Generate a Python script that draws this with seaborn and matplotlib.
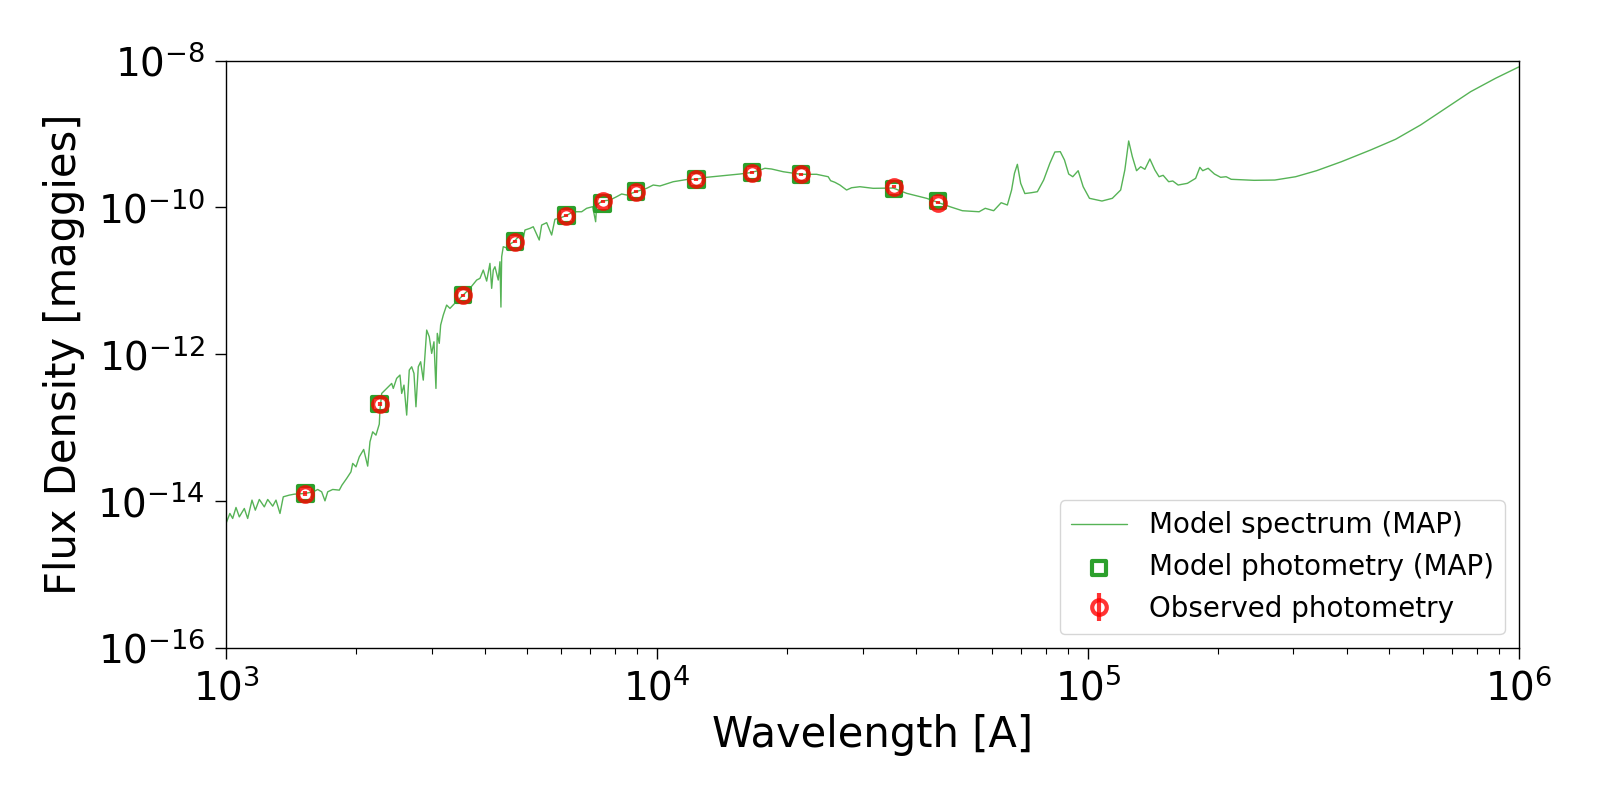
import numpy as np
import pandas as pd
import matplotlib
matplotlib.use("Agg")
import matplotlib.pyplot as plt
import seaborn as sns
from matplotlib.ticker import NullLocator

# model spectrum (log10 wavelength [A], log10 flux [maggies])
spec_loglam = [
    3.000, 3.009, 3.0155, 3.0232, 3.0309, 3.0425, 3.0503, 3.0603, 3.068, 3.0773,
    3.0889, 3.0968, 3.1084, 3.116, 3.1253, 3.1329, 3.1469, 3.1585, 3.1833, 3.2026,
    3.2128, 3.222, 3.2297, 3.236, 3.2476, 3.2629, 3.2691, 3.280, 3.290, 3.294,
    3.3016, 3.3093, 3.3195, 3.3288, 3.3341, 3.3404, 3.348, 3.3557, 3.3573,
    3.3613, 3.3689, 3.3766, 3.3845, 3.3882, 3.396, 3.4037, 3.4077, 3.413, 3.4193,
    3.4253, 3.4309, 3.4362, 3.4408, 3.4462, 3.4517, 3.4578, 3.4657, 3.4717, 3.4773,
    3.4826, 3.4872, 3.4903, 3.4949, 3.4981, 3.5042, 3.512, 3.5197, 3.5336, 3.5506,
    3.5661, 3.5817, 3.5893, 3.597, 3.6049, 3.6125, 3.6165, 3.6202, 3.6241, 3.6318,
    3.6357, 3.638, 3.6397, 3.6434, 3.652, 3.659,
    3.6682, 3.6821, 3.6868, 3.6937, 3.7053, 3.713, 3.7269, 3.7325, 3.7441, 3.7557,
    3.7633, 3.7749, 3.7889, 3.8058, 3.8253, 3.8369, 3.8508, 3.8578, 3.8601, 3.8731,
    3.891, 3.9065, 3.9181, 3.9297, 3.9513, 3.9761,
    3.9914, 4.007, 4.0378, 4.0726, 4.0905, 4.1153, 4.1617, 4.1926, 4.2158, 4.2351,
    4.2506, 4.2661, 4.2931, 4.3341, 4.3705, 4.3974, 4.403, 4.413, 4.4246, 4.4401,
    4.4517, 4.471, 4.5019, 4.5483, 4.5794, 4.6258, 4.6497, 4.6798, 4.7088, 4.7476,
    4.7619, 4.7814, 4.7988, 4.8132, 4.823, 4.8297, 4.8364, 4.8441, 4.8538, 4.8684,
    4.8828, 4.8974, 4.9118, 4.9234, 4.9360, 4.9457, 4.9555, 4.965, 4.9775, 4.9891,
    5.0037, 5.0327, 5.0568, 5.0761, 5.0858, 5.0947, 5.1032, 5.113, 5.1225, 5.1323,
    5.1439, 5.1555, 5.1652, 5.1747, 5.1875, 5.197, 5.2095, 5.2309, 5.2501, 5.2599,
    5.2666, 5.2791, 5.2937, 5.3081, 5.3209, 5.3325, 5.3856, 5.4339, 5.4821, 5.5306,
    5.5886, 5.6561, 5.7141, 5.7721, 5.8302, 5.8882, 5.9462, 6.000,
]
spec_logflux = [
    -14.304, -14.168, -14.236, -14.086, -14.214, -14.100, -14.236, -13.986, -14.123, -13.977,
    -14.078, -13.977, -14.068, -13.986, -14.168, -13.941, -13.918, -13.905, -13.895, -13.873,
    -13.841, -13.873, -13.996, -13.873, -13.841, -13.850, -13.782, -13.691, -13.601, -13.486,
    -13.533, -13.397, -13.296, -13.523, -13.192, -13.056, -13.101, -12.951, -12.760,
    -12.533, -12.488, -12.443, -12.397, -12.465, -12.328, -12.283, -12.533, -12.420, -12.828,
    -12.215, -12.170, -12.260, -12.715, -12.170, -12.102, -12.352, -11.670, -11.762, -11.988,
    -11.830, -12.465, -11.715, -11.851, -11.602, -11.466, -11.330, -11.375, -11.289, -11.193,
    -11.102, -10.989, -10.966, -10.853, -11.003, -10.762, -11.102, -10.853, -10.808, -10.989,
    -10.740, -11.357, -10.672, -10.535, -10.553, -10.499,
    -10.467, -10.376, -10.499, -10.308, -10.285, -10.263, -10.444, -10.240, -10.208, -10.376,
    -10.162, -10.144, -10.113, -10.059, -10.059, -10.012, -9.990, -10.195, -9.967, -9.913,
    -9.899, -9.854, -9.817, -9.831, -9.786, -9.740,
    -9.695, -9.708, -9.650, -9.617, -9.617, -9.590, -9.563, -9.545, -9.527, -9.500,
    -9.467, -9.477, -9.514, -9.549, -9.549, -9.582, -9.636, -9.658, -9.695, -9.763,
    -9.732, -9.718, -9.740, -9.736, -9.808, -9.876, -9.926, -9.990, -10.045, -10.059,
    -10.012, -10.045, -9.936, -9.967, -9.763, -9.535, -9.413, -9.672, -9.811, -9.800,
    -9.786, -9.627, -9.399, -9.245, -9.241, -9.354, -9.545, -9.582, -9.500, -9.718,
    -9.876, -9.913, -9.876, -9.763, -9.490, -9.095, -9.309, -9.500, -9.446, -9.481,
    -9.341, -9.490, -9.582, -9.563, -9.650, -9.640, -9.695, -9.672, -9.604, -9.454,
    -9.500, -9.467, -9.545, -9.590, -9.582, -9.617, -9.631, -9.627, -9.582, -9.500,
    -9.377, -9.218, -9.072, -8.877, -8.650, -8.424, -8.241, -8.087,
]

# photometry
phot_wave = [1528, 2271, 3551, 4686, 6166, 7480, 8932, 12350, 16620, 21590, 35500, 44930]
model_flux = [1.27e-14, 2.10e-13, 6.41e-12, 3.41e-11, 7.71e-11, 1.14e-10, 1.64e-10,
              2.42e-10, 2.97e-10, 2.82e-10, 1.77e-10, 1.22e-10]
obs_flux = [1.27e-14, 2.10e-13, 6.41e-12, 3.41e-11, 7.71e-11, 1.22e-10, 1.64e-10,
            2.42e-10, 2.97e-10, 2.82e-10, 1.91e-10, 1.16e-10]
obs_err = [1.0e-15, 1.2e-14, 3.0e-13, 1.5e-12, 3.5e-12, 6.0e-12, 8.0e-12,
           1.2e-11, 1.5e-11, 1.4e-11, 1.0e-11, 6.0e-12]

sns.set_style("ticks")
plt.rcParams['font.family'] = ['DejaVu Sans']
plt.rcParams['axes.edgecolor'] = 'black'
plt.rcParams['xtick.color'] = 'black'
plt.rcParams['ytick.color'] = 'black'
plt.rcParams['text.color'] = 'black'
plt.rcParams['axes.labelcolor'] = 'black'

spec = pd.DataFrame({'wave': 10 ** np.array(spec_loglam),
                     'flux': 10 ** np.array(spec_logflux)})

fig = plt.figure(figsize=(16, 8), dpi=100)
ax = fig.add_axes([0.14125, 0.19, 0.808, 0.7343])
ax.set_xscale('log')
ax.set_yscale('log')

sns.lineplot(data=spec, x='wave', y='flux', ax=ax, color='tab:green', alpha=0.8,
             lw=1, estimator=None, sort=False, label='Model spectrum (MAP)')
sns.scatterplot(x=phot_wave, y=model_flux, ax=ax, marker='s', s=110,
                facecolors='none', edgecolor='tab:green', linewidth=3,
                label='Model photometry (MAP)', zorder=3)
ax.errorbar(phot_wave, obs_flux, yerr=obs_err, fmt='o', color='red', alpha=0.8,
            mfc='none', ms=10.5, mew=3, elinewidth=3, capsize=0,
            label='Observed photometry', zorder=4)

ax.set_xlim(1e3, 1e6)
ax.set_ylim(1e-16, 1e-8)
ax.set_yticks([1e-16, 1e-14, 1e-12, 1e-10, 1e-8])
ax.yaxis.set_minor_locator(NullLocator())

ax.tick_params(which='major', labelsize=28, length=8, width=1, pad=7, direction='out')
ax.tick_params(which='minor', length=4, width=0.8, direction='out')
for sp in ax.spines.values():
    sp.set_linewidth(1)
    sp.set_color('black')

ax.set_xlabel('Wavelength [A]', fontsize=30)
ax.set_ylabel('Flux Density [maggies]', fontsize=30, labelpad=9)
ax.legend(loc='lower right', fontsize=20)

fig.savefig('out.png', dpi=100)
